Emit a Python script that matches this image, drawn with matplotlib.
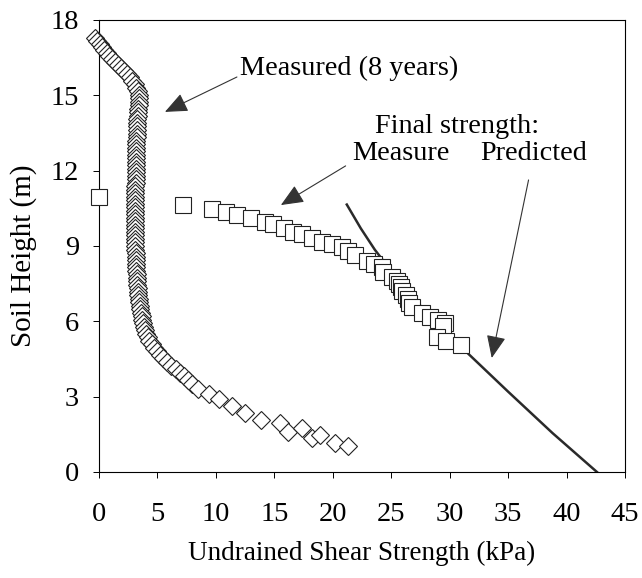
import matplotlib
matplotlib.use("Agg")
import matplotlib.pyplot as plt

# measured strength after 8 years (diamonds): height (m), strength (kPa)
meas8_y = [17.30, 17.18, 17.05, 16.92, 16.80, 16.68, 16.56, 16.45, 16.34, 16.22,
           16.10, 15.98, 15.85, 15.72, 15.58, 15.44, 15.30, 15.16, 15.02, 14.88,
           14.74, 14.60, 14.46, 14.32, 14.18, 14.04, 13.90, 13.76, 13.62, 13.48,
           13.34, 13.20, 13.06, 12.92, 12.78, 12.64, 12.50, 12.36, 12.22, 12.08,
           11.94, 11.80, 11.66, 11.52, 11.38, 11.24, 11.10, 10.96, 10.82, 10.68,
           10.54, 10.40, 10.26, 10.12, 9.98, 9.84, 9.70, 9.56, 9.42, 9.28,
           9.14, 9.00, 8.86, 8.72, 8.58, 8.44, 8.30, 8.16, 8.02, 7.88,
           7.74, 7.60, 7.46, 7.32, 7.18, 7.04, 6.90, 6.76, 6.62, 6.48,
           6.34, 6.20, 6.06, 5.92, 5.78, 5.64, 5.50, 5.36, 5.22, 5.08,
           4.94, 4.80, 4.66, 4.52, 4.38, 4.24, 4.10, 3.96, 3.82, 3.66,
           3.50, 3.30, 3.12, 2.90, 2.62, 2.36, 2.08, 1.95, 1.58, 1.75,
           1.35, 1.47, 1.16, 1.04]
meas8_x = [-0.30, -0.15, 0.05, 0.25, 0.45, 0.65, 0.85, 1.10, 1.35, 1.60,
           1.90, 2.15, 2.40, 2.65, 2.85, 3.05, 3.20, 3.30, 3.38, 3.42,
           3.42, 3.40, 3.36, 3.32, 3.30, 3.28, 3.26, 3.25, 3.24, 3.22,
           3.22, 3.20, 3.20, 3.18, 3.18, 3.17, 3.16, 3.16, 3.15, 3.15,
           3.14, 3.14, 3.13, 3.13, 3.12, 3.12, 3.12, 3.11, 3.11, 3.10,
           3.10, 3.10, 3.10, 3.10, 3.10, 3.10, 3.10, 3.10, 3.10, 3.11,
           3.11, 3.12, 3.12, 3.13, 3.14, 3.15, 3.16, 3.17, 3.19, 3.21,
           3.23, 3.25, 3.27, 3.30, 3.33, 3.36, 3.40, 3.44, 3.48, 3.53,
           3.58, 3.64, 3.70, 3.77, 3.85, 3.94, 4.05, 4.17, 4.32, 4.50,
           4.70, 4.95, 5.20, 5.50, 5.85, 6.20, 6.55, 6.90, 7.25, 7.60,
           7.95, 8.50, 9.40, 10.30, 11.40, 12.50, 13.90, 15.50, 16.20, 17.40,
           18.20, 18.90, 20.20, 21.30]

# final strength, measured (squares)
final_x = [0.0, 7.2, 9.7, 10.9, 11.8, 13.0, 14.2, 14.9, 15.8, 16.6,
           17.4, 18.2, 19.1, 19.9, 20.8, 21.3, 21.9, 22.9, 23.5, 24.2,
           24.3, 25.1, 25.5, 25.7, 25.8, 25.9, 26.3, 26.4, 26.5, 26.8,
           27.6, 28.3, 29.0, 29.6, 29.4, 28.9, 29.7, 31.0]
final_y = [10.95, 10.65, 10.48, 10.36, 10.24, 10.10, 9.96, 9.88, 9.72, 9.56,
           9.48, 9.32, 9.16, 9.08, 8.96, 8.80, 8.64, 8.40, 8.30, 8.17,
           7.97, 7.75, 7.62, 7.50, 7.35, 7.20, 7.05, 6.88, 6.72, 6.57,
           6.35, 6.18, 6.06, 5.95, 5.80, 5.36, 5.20, 5.06]

# final strength, predicted (line)
pred_x = [21.2, 22.4, 23.6, 25.5, 28.0, 31.5, 35.0, 38.8, 42.6]
pred_y = [10.65, 9.70, 8.85, 7.70, 6.35, 4.75, 3.20, 1.55, 0.0]

x_ticks = [0, 5, 10, 15, 20, 25, 30, 35, 40, 45]
y_ticks = [0, 3, 6, 9, 12, 15, 18]

plt.rcParams["font.family"] = ["Liberation Serif", "DejaVu Serif"]

fig = plt.figure(figsize=(6.42, 5.78), dpi=100)
ax = fig.add_axes([0.1542, 0.1834, 0.8193, 0.782])

ax.plot(pred_x, pred_y, color="#2a2a2a", lw=1.8, zorder=2)
ax.plot(final_x, final_y, ls="none", marker="s", ms=11.5, mfc="white",
        mec="#222222", mew=0.8, clip_on=False, zorder=3)
ax.plot(meas8_x, meas8_y, ls="none", marker="D", ms=9.3, mfc="white",
        mec="#222222", mew=0.8, clip_on=False, zorder=4)

ax.set_xlim(0, 45)
ax.set_ylim(0, 18)
ax.set_xticks(x_ticks)
ax.set_yticks(y_ticks)
ax.tick_params(direction="out", length=4.5, width=0.7, labelsize=20.5)
ax.tick_params(axis="x", pad=17)
ax.tick_params(axis="y", pad=10)
for sp in ax.spines.values():
    sp.set_linewidth(0.8)

ax.set_xlabel("Undrained Shear Strength (kPa)", fontsize=19.5)
ax.set_ylabel("Soil Height (m)", fontsize=21)
ax.xaxis.set_label_coords(0.5, -0.152)
ax.yaxis.set_label_coords(-0.118, 0.478)

txt = dict(fontsize=20.3, va="center", ha="left")
ax.text(12.05, 16.09, "Measured (8 years)", **txt)
ax.text(23.6, 13.74, "Final strength:", **txt)
ax.text(21.7, 12.70, "Measure", **txt)
ax.text(32.6, 12.70, "Predicted", **txt)

arrow = dict(arrowstyle="-|>,head_length=1.4,head_width=0.6", mutation_scale=10,
             color="#333333", lw=0.8, shrinkA=0, shrinkB=0)
ax.annotate("", xy=(5.64, 14.34), xytext=(11.8, 15.73), arrowprops=arrow)
ax.annotate("", xy=(15.56, 10.63), xytext=(21.1, 12.19), arrowprops=arrow)
ax.annotate("", xy=(33.6, 4.54), xytext=(36.75, 11.63), arrowprops=arrow)

fig.savefig("out.png", dpi=100)
